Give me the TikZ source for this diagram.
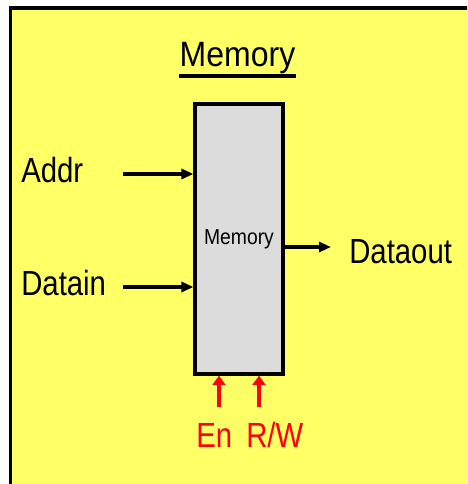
\documentclass[tikz,border=0pt]{standalone}
\usepackage{fontspec}
\setmainfont{Liberation Sans}
\usetikzlibrary{arrows.meta, positioning}

\definecolor{memyellow}{HTML}{FFFF66}
\definecolor{memgray}{HTML}{DCDCDC}
\newcommand{\tallfont}[1]{\scalebox{1}[1.19]{#1}}

\begin{document}
\begin{tikzpicture}[
    x=0.75pt, y=-0.75pt,
    every node/.style={font=\fontsize{22}{26}\selectfont, inner sep=0pt},
    label/.style={anchor=base west},
    block/.style={rectangle, draw, line width=2.4pt, fill=memgray, minimum width=66pt, minimum height=202.5pt, font=\fontsize{14.5}{16}\selectfont},
    arrow/.style={-{Triangle[length=9pt, width=7.5pt]}, line width=2.4pt},
    ctrl/.style={-{Triangle[length=7pt, width=9.5pt]}, line width=3.4pt, red}
]
\clip (0,0) rectangle (467,484);
\useasboundingbox (0,0) rectangle (467,484);
\draw[line width=2.6pt, fill=memyellow] (10.7,7.8) rectangle (520,540);

% title
\node[font=\fontsize{24}{28}\selectfont] (title) at (237.5,58) {\scalebox{1}[1.1]{Memory}};
\draw[line width=2.4pt] ([yshift=-1.5pt]title.south west) -- ([yshift=-1.5pt]title.south east);

% memory block
\node[block] (mem) at (239,239) {\raisebox{-2.5pt}{\scalebox{1}[1.12]{Memory}}};

% inputs
\node[label] (addr) at (21,183) {\tallfont{Addr}};
\node[label] (datain) at (21,295) {\tallfont{Datain}};
\coordinate (addrin) at (123,174);
\coordinate (datin) at (123,287);
\draw[arrow] (addrin) -- (addrin -| mem.west);
\draw[arrow] (datin) -- (datin -| mem.west);

% output
\node[label] (dataout) at (349,263) {\tallfont{Dataout}};
\coordinate (datout) at (331,247);
\draw[arrow] (datout -| mem.east) -- (datout);

% control
\node[label, text=red] (en) at (196,447) {\tallfont{En}};
\node[label, text=red] (rw) at (246,447) {\tallfont{R/W}};
\coordinate (enin) at (219,407);
\coordinate (rwin) at (259,407);
\draw[ctrl] (enin) -- (enin |- mem.south);
\draw[ctrl] (rwin) -- (rwin |- mem.south);
\end{tikzpicture}
\end{document}
